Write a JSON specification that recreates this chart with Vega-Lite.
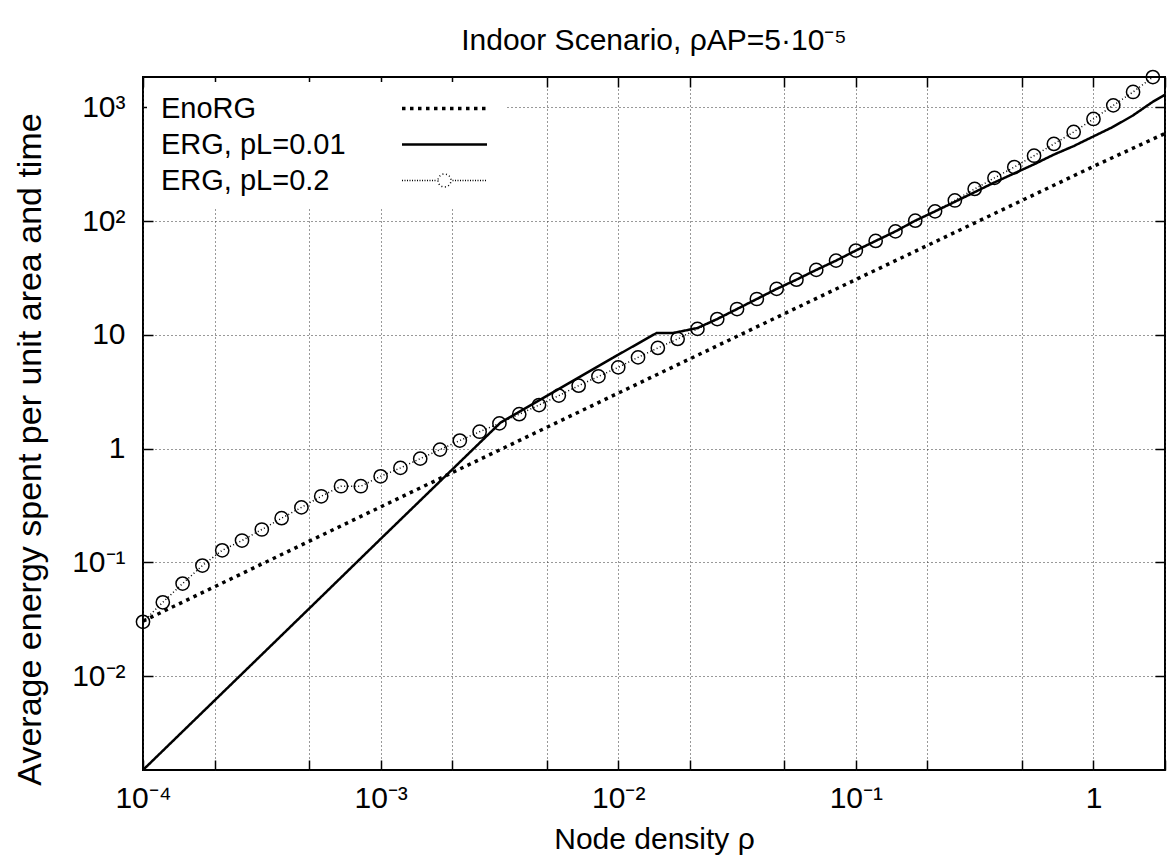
{
  "$schema": "https://vega.github.io/schema/vega-lite/v6.json",
  "width": 1022,
  "height": 693,
  "autosize": {"type": "none"},
  "padding": {"left": 143, "top": 77, "right": 3, "bottom": 96},
  "background": "white",
  "config": {
    "font": "Liberation Sans",
    "view": {"stroke": "black", "strokeWidth": 2}
  },
  "title": {
    "text": "Indoor Scenario, ρAP=5·10⁻⁵",
    "fontSize": 30,
    "fontWeight": "normal",
    "font": "Liberation Sans",
    "color": "black",
    "anchor": "middle",
    "frame": "group",
    "baseline": "alphabetic",
    "offset": -13
  },
  "datasets": {
    "curves": [
      {"rho": 0.0001, "E": 0.0305, "s": "EnoRG"},
      {"rho": 0.001, "E": 0.308, "s": "EnoRG"},
      {"rho": 0.01, "E": 3.08, "s": "EnoRG"},
      {"rho": 0.1, "E": 30.7, "s": "EnoRG"},
      {"rho": 1, "E": 303, "s": "EnoRG"},
      {"rho": 2, "E": 590, "s": "EnoRG"},

      {"rho": 0.0001, "E": 0.0015, "s": "ERG, pL=0.01"},
      {"rho": 0.0005, "E": 0.0393, "s": "ERG, pL=0.01"},
      {"rho": 0.001, "E": 0.161, "s": "ERG, pL=0.01"},
      {"rho": 0.002, "E": 0.656, "s": "ERG, pL=0.01"},
      {"rho": 0.0032, "E": 1.70, "s": "ERG, pL=0.01"},
      {"rho": 0.01, "E": 6.7, "s": "ERG, pL=0.01"},
      {"rho": 0.0145, "E": 10.4, "s": "ERG, pL=0.01"},
      {"rho": 0.017, "E": 10.4, "s": "ERG, pL=0.01"},
      {"rho": 0.0215443, "E": 11.5, "s": "ERG, pL=0.01"},
      {"rho": 0.0261016, "E": 13.8, "s": "ERG, pL=0.01"},
      {"rho": 0.0316228, "E": 16.9, "s": "ERG, pL=0.01"},
      {"rho": 0.0383119, "E": 20.7, "s": "ERG, pL=0.01"},
      {"rho": 0.0464159, "E": 25.4, "s": "ERG, pL=0.01"},
      {"rho": 0.0562341, "E": 30.6, "s": "ERG, pL=0.01"},
      {"rho": 0.0681292, "E": 37.3, "s": "ERG, pL=0.01"},
      {"rho": 0.0825404, "E": 45.0, "s": "ERG, pL=0.01"},
      {"rho": 0.1, "E": 55.2, "s": "ERG, pL=0.01"},
      {"rho": 0.121153, "E": 67.0, "s": "ERG, pL=0.01"},
      {"rho": 0.14678, "E": 81.3, "s": "ERG, pL=0.01"},
      {"rho": 0.177828, "E": 101, "s": "ERG, pL=0.01"},
      {"rho": 0.215443, "E": 122, "s": "ERG, pL=0.01"},
      {"rho": 0.261016, "E": 148, "s": "ERG, pL=0.01"},
      {"rho": 0.316228, "E": 180, "s": "ERG, pL=0.01"},
      {"rho": 0.383119, "E": 219, "s": "ERG, pL=0.01"},
      {"rho": 0.464159, "E": 263, "s": "ERG, pL=0.01"},
      {"rho": 0.562341, "E": 316, "s": "ERG, pL=0.01"},
      {"rho": 0.681292, "E": 385, "s": "ERG, pL=0.01"},
      {"rho": 0.825404, "E": 457, "s": "ERG, pL=0.01"},
      {"rho": 1, "E": 556, "s": "ERG, pL=0.01"},
      {"rho": 1.21153, "E": 676, "s": "ERG, pL=0.01"},
      {"rho": 1.4678, "E": 851, "s": "ERG, pL=0.01"},
      {"rho": 1.77828, "E": 1122, "s": "ERG, pL=0.01"},
      {"rho": 2, "E": 1290, "s": "ERG, pL=0.01"},

      {"rho": 0.0001, "E": 0.0301, "s": "ERG, pL=0.2"},
      {"rho": 0.000121153, "E": 0.0447, "s": "ERG, pL=0.2"},
      {"rho": 0.00014678, "E": 0.0653, "s": "ERG, pL=0.2"},
      {"rho": 0.000177828, "E": 0.094, "s": "ERG, pL=0.2"},
      {"rho": 0.000215443, "E": 0.128, "s": "ERG, pL=0.2"},
      {"rho": 0.000261016, "E": 0.156, "s": "ERG, pL=0.2"},
      {"rho": 0.000316228, "E": 0.195, "s": "ERG, pL=0.2"},
      {"rho": 0.000383119, "E": 0.245, "s": "ERG, pL=0.2"},
      {"rho": 0.000464159, "E": 0.305, "s": "ERG, pL=0.2"},
      {"rho": 0.000562341, "E": 0.382, "s": "ERG, pL=0.2"},
      {"rho": 0.000681292, "E": 0.468, "s": "ERG, pL=0.2"},
      {"rho": 0.000825404, "E": 0.468, "s": "ERG, pL=0.2"},
      {"rho": 0.001, "E": 0.572, "s": "ERG, pL=0.2"},
      {"rho": 0.00121153, "E": 0.678, "s": "ERG, pL=0.2"},
      {"rho": 0.0014678, "E": 0.818, "s": "ERG, pL=0.2"},
      {"rho": 0.00177828, "E": 0.982, "s": "ERG, pL=0.2"},
      {"rho": 0.00215443, "E": 1.18, "s": "ERG, pL=0.2"},
      {"rho": 0.00261016, "E": 1.41, "s": "ERG, pL=0.2"},
      {"rho": 0.00316228, "E": 1.67, "s": "ERG, pL=0.2"},
      {"rho": 0.00383119, "E": 2.01, "s": "ERG, pL=0.2"},
      {"rho": 0.00464159, "E": 2.42, "s": "ERG, pL=0.2"},
      {"rho": 0.00562341, "E": 2.93, "s": "ERG, pL=0.2"},
      {"rho": 0.00681292, "E": 3.58, "s": "ERG, pL=0.2"},
      {"rho": 0.00825404, "E": 4.32, "s": "ERG, pL=0.2"},
      {"rho": 0.01, "E": 5.19, "s": "ERG, pL=0.2"},
      {"rho": 0.0121153, "E": 6.35, "s": "ERG, pL=0.2"},
      {"rho": 0.014678, "E": 7.69, "s": "ERG, pL=0.2"},
      {"rho": 0.0177828, "E": 9.22, "s": "ERG, pL=0.2"},
      {"rho": 0.0215443, "E": 11.3, "s": "ERG, pL=0.2"},
      {"rho": 0.0261016, "E": 13.8, "s": "ERG, pL=0.2"},
      {"rho": 0.0316228, "E": 16.9, "s": "ERG, pL=0.2"},
      {"rho": 0.0383119, "E": 20.7, "s": "ERG, pL=0.2"},
      {"rho": 0.0464159, "E": 25.4, "s": "ERG, pL=0.2"},
      {"rho": 0.0562341, "E": 30.6, "s": "ERG, pL=0.2"},
      {"rho": 0.0681292, "E": 37.3, "s": "ERG, pL=0.2"},
      {"rho": 0.0825404, "E": 45.0, "s": "ERG, pL=0.2"},
      {"rho": 0.1, "E": 55.2, "s": "ERG, pL=0.2"},
      {"rho": 0.121153, "E": 67.0, "s": "ERG, pL=0.2"},
      {"rho": 0.14678, "E": 81.3, "s": "ERG, pL=0.2"},
      {"rho": 0.177828, "E": 101, "s": "ERG, pL=0.2"},
      {"rho": 0.215443, "E": 122, "s": "ERG, pL=0.2"},
      {"rho": 0.261016, "E": 152, "s": "ERG, pL=0.2"},
      {"rho": 0.316228, "E": 192, "s": "ERG, pL=0.2"},
      {"rho": 0.383119, "E": 240, "s": "ERG, pL=0.2"},
      {"rho": 0.464159, "E": 299, "s": "ERG, pL=0.2"},
      {"rho": 0.562341, "E": 376, "s": "ERG, pL=0.2"},
      {"rho": 0.681292, "E": 477, "s": "ERG, pL=0.2"},
      {"rho": 0.825404, "E": 608, "s": "ERG, pL=0.2"},
      {"rho": 1, "E": 791, "s": "ERG, pL=0.2"},
      {"rho": 1.21153, "E": 1042, "s": "ERG, pL=0.2"},
      {"rho": 1.4678, "E": 1366, "s": "ERG, pL=0.2"},
      {"rho": 1.77828, "E": 1849, "s": "ERG, pL=0.2"}
    ]
  },
  "data": {"name": "curves"},
  "layer": [
    {
      "mark": {"type": "line", "clip": true, "color": "black", "strokeCap": "butt"},
      "encoding": {
        "x": {
          "field": "rho", "type": "quantitative",
          "scale": {"type": "log", "domain": [0.0001, 2], "nice": false, "zero": false},
          "axis": {
            "orient": "bottom",
            "title": "Node density ρ",
            "titleFont": "Liberation Sans", "titleFontSize": 30, "titleFontWeight": "normal", "titleColor": "black",
            "titleBaseline": "alphabetic", "titleY": 78,
            "values": [0.0001, 0.0002, 0.0005, 0.001, 0.002, 0.005, 0.01, 0.02, 0.05, 0.1, 0.2, 0.5, 1, 2],
            "labelExpr": "datum.value == 0.0001 ? '10⁻⁴' : datum.value == 0.001 ? '10⁻³' : datum.value == 0.01 ? '10⁻²' : datum.value == 0.1 ? '10⁻¹' : datum.value == 1 ? '1' : ''",
            "labelFont": "Liberation Sans", "labelFontSize": 30, "labelColor": "black",
            "labelPadding": 23, "labelFlush": false, "labelOverlap": false,
            "tickSize": -10, "tickColor": "black", "tickWidth": 1.5,
            "domain": false,
            "grid": true, "gridColor": "#333", "gridDash": [1, 3], "gridWidth": 1
          }
        },
        "y": {
          "field": "E", "type": "quantitative",
          "scale": {"type": "log", "domain": [0.0015, 1850], "nice": false, "zero": false},
          "axis": {
            "orient": "left",
            "title": "Average energy spent per unit area and time",
            "titleFont": "Liberation Sans", "titleFontSize": 34, "titleFontWeight": "normal", "titleColor": "black",
            "titleBaseline": "middle", "titleAlign": "center", "titleX": -113, "titleY": 372,
            "values": [0.01, 0.1, 1, 10, 100, 1000],
            "labelExpr": "datum.value == 0.01 ? '10⁻²' : datum.value == 0.1 ? '10⁻¹' : datum.value == 1 ? '1' : datum.value == 10 ? '10' : datum.value == 100 ? '10²' : '10³'",
            "labelFont": "Liberation Sans", "labelFontSize": 30, "labelColor": "black",
            "labelPadding": 28, "labelFlush": false, "labelOverlap": false,
            "tickSize": -10, "tickColor": "black", "tickWidth": 1.5,
            "domain": false,
            "grid": true, "gridColor": "#333", "gridDash": [1, 3], "gridWidth": 1
          }
        },
        "strokeDash": {
          "field": "s", "type": "nominal",
          "scale": {"domain": ["EnoRG", "ERG, pL=0.01", "ERG, pL=0.2"], "range": [[3.5, 4.5], [1, 0], [1, 2.5]]},
          "legend": {
            "title": null,
            "orient": "none",
            "legendX": 4,
            "legendY": 5,
            "padding": 12,
            "fillColor": "white",
            "strokeColor": null,
            "labelFont": "Liberation Sans",
            "labelFontSize": 29,
            "labelColor": "black",
            "labelAlign": "left",
            "labelOffset": -298,
            "symbolOffset": 271,
            "symbolSize": 400,
            "symbolType": "M-4.25,0H4.25",
            "symbolStrokeColor": "black",
            "symbolFillColor": "transparent",
            "symbolStrokeWidth": 1.5,
            "rowPadding": 6,
            "labelLimit": 400,
            "encode": {
              "symbols": {
                "update": {
                  "shape": {"signal": "datum.value == 'ERG, pL=0.2' ? 'M-4.25,0h0.1M-4,0h0.1M-3.75,0h0.1M-3.5,0h0.1M-3.25,0h0.1M-3,0h0.1M-2.75,0h0.1M-2.5,0h0.1M-2.25,0h0.1M-2,0h0.1M-1.75,0h0.1M-1.5,0h0.1M-1.25,0h0.1M-1,0h0.1M0.8,0h0.1M1.05,0h0.1M1.3,0h0.1M1.55,0h0.1M1.8,0h0.1M2.05,0h0.1M2.3,0h0.1M2.55,0h0.1M2.8,0h0.1M3.05,0h0.1M3.3,0h0.1M3.55,0h0.1M3.8,0h0.1M4.05,0h0.1M-0.65,0A0.65,0.65 0 1,0 0.65,0A0.65,0.65 0 1,0 -0.65,0' : 'M-4.25,0H4.25'"},
                  "strokeWidth": {"signal": "datum.value == 'EnoRG' ? 3.5 : 1.4"},
                  "strokeDash": {"signal": "datum.value == 'EnoRG' ? [3.5, 4.5] : [1, 0]"},
                  "fill": {"value": "transparent"},
                  "stroke": {"value": "black"},
                  "opacity": {"value": 1}
                }
              }
            }
          }
        },
        "strokeWidth": {
          "field": "s", "type": "nominal",
          "scale": {"domain": ["EnoRG", "ERG, pL=0.01", "ERG, pL=0.2"], "range": [3.5, 1.5, 1]},
          "legend": null
        }
      }
    },
    {
      "transform": [{"filter": "datum.s == 'ERG, pL=0.2'"}],
      "mark": {"type": "point", "shape": "circle", "filled": false, "stroke": "black", "strokeWidth": 1.5, "size": 175, "opacity": 1, "clip": false},
      "encoding": {
        "x": {
          "field": "rho", "type": "quantitative",
          "scale": {"type": "log", "domain": [0.0001, 2], "nice": false, "zero": false},
          "axis": {
            "orient": "top", "title": null, "labels": false, "grid": false, "domain": false,
            "values": [0.0001, 0.0002, 0.0005, 0.001, 0.002, 0.005, 0.01, 0.02, 0.05, 0.1, 0.2, 0.5, 1, 2],
            "tickSize": -10, "tickColor": "black", "tickWidth": 1.5
          }
        },
        "y": {
          "field": "E", "type": "quantitative",
          "scale": {"type": "log", "domain": [0.0015, 1850], "nice": false, "zero": false},
          "axis": {
            "orient": "right", "title": null, "labels": false, "grid": false, "domain": false,
            "values": [0.01, 0.1, 1, 10, 100, 1000],
            "tickSize": -10, "tickColor": "black", "tickWidth": 1.5
          }
        }
      }
    }
  ],
  "resolve": {"axis": {"x": "independent", "y": "independent"}}
}
